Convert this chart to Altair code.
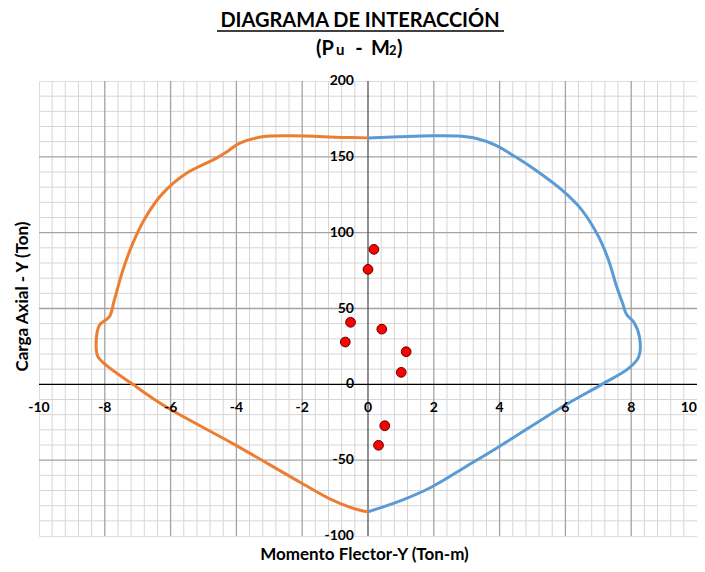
import altair as alt
import pandas as pd
import numpy as np

# Interaction curve, positive moment side (blue)
pos_m = [0.0, 0.94, 1.95, 2.76, 3.27, 3.87, 4.48, 5.09, 5.90, 6.50, 7.01, 7.31, 7.56,
         7.74, 7.86, 8.07, 8.25, 8.23, 7.92, 7.11, 6.0, 3.98, 2.97, 1.95, 1.04, 0.0]
pos_p = [162.4, 163.2, 163.9, 163.7, 162.2, 157.7, 150.0, 141.3, 128.0, 114.9, 97.3, 82.0, 64.3,
         53.4, 46.0, 41.3, 31.4, 18.2, 10.5, 0.0, -13.6, -41.1, -54.3, -67.5, -76.3, -84.0]

# Interaction curve, negative moment side (orange)
neg_m = [0.0, -0.78, -2.30, -3.21, -3.91, -4.22, -4.62, -5.53, -6.24, -6.75, -7.15, -7.45, -7.71,
         -7.86, -8.16, -8.26, -8.21, -7.96, -7.15, -6.14, -4.12, -2.09, -1.08, -0.27, 0.0]
neg_p = [162.5, 162.8, 163.9, 163.2, 158.9, 154.4, 149.0, 139.0, 125.9, 110.5, 93.0, 75.3, 55.6,
         44.6, 39.1, 29.2, 18.2, 12.7, 0.0, -14.8, -38.9, -64.2, -76.3, -82.9, -84.0]

# Load points
pts_m = [0.18, 0.0, -0.53, -0.69, 0.42, 1.16, 1.01, 0.51, 0.32]
pts_p = [89.0, 75.8, 40.9, 27.9, 36.4, 21.5, 7.9, -27.3, -40.2]

# Tick labels
x_ticks = [-10, -8, -6, -4, -2, 0, 2, 4, 6, 8, 10]
y_ticks = [-100, -50, 0, 50, 100, 150, 200]

x_minor = [round(v, 2) for v in np.arange(-10, 10.001, 0.4)]
y_minor = list(range(-100, 201, 10))

W, H = 658, 455
X_DOM, Y_DOM = [-10, 10], [-100, 200]
FONT = "Lato"

x_axis = alt.Axis(title="Momento Flector-Y (Ton-m)", labels=False, ticks=False, domain=False,
                  grid=False, titleFont=FONT, titleFontSize=17, titleFontWeight="bold",
                  titleColor="black", titlePadding=10, titleX=325)
y_axis = alt.Axis(title="Carga Axial - Y (Ton)", labels=False, ticks=False, domain=False,
                  grid=False, titleFont=FONT, titleFontSize=17, titleFontWeight="bold",
                  titleColor="black", titlePadding=8, titleY=215)

def X(field):
    return alt.X(f"{field}:Q", scale=alt.Scale(domain=X_DOM, nice=False, zero=False), axis=x_axis)

def Y(field):
    return alt.Y(f"{field}:Q", scale=alt.Scale(domain=Y_DOM, nice=False, zero=False), axis=y_axis)

df_xminor = pd.DataFrame({"m": [v for v in x_minor if abs(v / 2 - round(v / 2)) > 1e-6]})
df_xmajor = pd.DataFrame({"m": [v for v in x_ticks if v not in (-10, 0, 10)]})
df_yminor = pd.DataFrame({"p": [v for v in y_minor if v % 50 != 0]})
df_ymajor = pd.DataFrame({"p": [v for v in y_ticks if v not in (-100, 0, 200)]})

grid_xmin = alt.Chart(df_xminor).mark_rule(color="#d6d6d6", strokeWidth=1).encode(x=X("m"))
grid_ymin = alt.Chart(df_yminor).mark_rule(color="#d6d6d6", strokeWidth=1).encode(y=Y("p"))
grid_xmaj = alt.Chart(df_xmajor).mark_rule(color="#a3a3a3", strokeWidth=1.3).encode(x=X("m"))
grid_ymaj = alt.Chart(df_ymajor).mark_rule(color="#a3a3a3", strokeWidth=1.3).encode(y=Y("p"))

zero_x = alt.Chart(pd.DataFrame({"m": [0]})).mark_rule(color="#555555", strokeWidth=1.3).encode(x=X("m"))
zero_y = alt.Chart(pd.DataFrame({"p": [0]})).mark_rule(color="black", strokeWidth=1.3).encode(y=Y("p"))

df_pos = pd.DataFrame({"m": pos_m, "p": pos_p, "i": range(len(pos_m))})
df_neg = pd.DataFrame({"m": neg_m, "p": neg_p, "i": range(len(neg_m))})

line_neg = alt.Chart(df_neg).mark_line(color="#ED7D31", strokeWidth=3, interpolate="catmull-rom").encode(
    x=X("m"), y=Y("p"), order="i:Q")
line_pos = alt.Chart(df_pos).mark_line(color="#5B9BD5", strokeWidth=3, interpolate="catmull-rom").encode(
    x=X("m"), y=Y("p"), order="i:Q")

points = alt.Chart(pd.DataFrame({"m": pts_m, "p": pts_p})).mark_point(
    filled=True, shape="circle", size=95, fill="#FF0000", stroke="#5a0000", strokeWidth=1, opacity=1
).encode(x=X("m"), y=Y("p"))

inner_x = [v for v in x_ticks if v < max(x_ticks)]
edge_x = [max(x_ticks)]
df_xl = pd.DataFrame({"m": inner_x, "p": [0] * len(inner_x), "t": [str(v) for v in inner_x]})
df_xl_edge = pd.DataFrame({"m": edge_x, "p": [0], "t": [str(v) for v in edge_x]})
df_yl = pd.DataFrame({"m": [0] * len(y_ticks), "p": y_ticks, "t": [str(v) for v in y_ticks]})

lbl_style = dict(font=FONT, fontSize=14, fontWeight="bold", color="black", baseline="middle")
x_labels = alt.Chart(df_xl).mark_text(align="center", dy=24, **lbl_style).encode(
    x=X("m"), y=Y("p"), text="t:N")
x_label_edge = alt.Chart(df_xl_edge).mark_text(align="right", dy=24, dx=0, **lbl_style).encode(
    x=X("m"), y=Y("p"), text="t:N")
y_labels = alt.Chart(df_yl).mark_text(align="right", dx=-14, **lbl_style).encode(
    x=X("m"), y=Y("p"), text="t:N")

# Titles (decorative text placed above the plot)
def txt(s, x, y, size, align="left"):
    return alt.Chart(pd.DataFrame({"t": [s]})).mark_text(
        font=FONT, fontSize=size, fontWeight="bold", color="black", align=align, baseline="alphabetic"
    ).encode(x=alt.value(x), y=alt.value(y), text="t:N")

title_txt = txt("DIAGRAMA DE INTERACCIÓN", 321, -54, 20, "center")
sub_parts = [
    txt("(P", 277, -26, 20),
    txt("u", 297, -26, 15),
    txt("-", 320, -26, 20, "center"),
    txt("M", 332, -26, 20),
    txt("2", 350, -26, 13),
    txt(")", 358, -26, 20),
]
underline = alt.Chart(pd.DataFrame({"a": [0]})).mark_rule(color="black", strokeWidth=1.6).encode(
    x=alt.value(178), x2=alt.value(465), y=alt.value(-50))

chart = alt.layer(
    grid_xmin, grid_ymin, grid_xmaj, grid_ymaj, zero_x, zero_y,
    line_neg, line_pos, points, x_labels, x_label_edge, y_labels, title_txt, *sub_parts, underline
).properties(
    width=W, height=H,
    autosize=alt.AutoSizeParams(type="none"),
    padding={"left": 31, "top": 73, "right": 0, "bottom": 28},
).configure_view(stroke="#707070", strokeWidth=1.5).configure(background="white")

chart.save("out.html", embed_options={"renderer": "svg", "actions": False})
